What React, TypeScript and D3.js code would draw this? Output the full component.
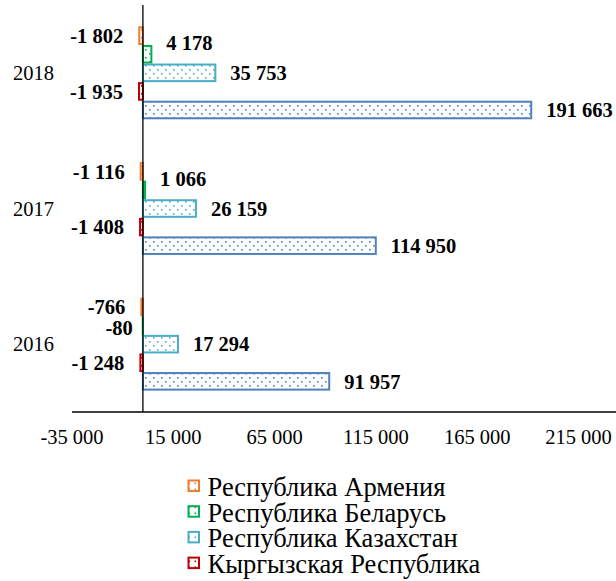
import React from "react";
import * as d3 from "d3";

const years = ["2018", "2017", "2016"];
const seriesNames = [
  "Республика Армения",
  "Республика Беларусь",
  "Республика Казахстан",
  "Кыргызская Республика",
  "Российская Федерация",
];
const seriesColors = ["#ED7D31", "#00B050", "#4BACC6", "#C00000", "#4F81BD"];
const armenia = [-1802, -1116, -766];
const belarus = [4178, 1066, -80];
const kazakhstan = [35753, 26159, 17294];
const kyrgyz = [-1935, -1408, -1248];
const russia = [191663, 114950, 91957];
const seriesValues = [armenia, belarus, kazakhstan, kyrgyz, russia];
const legendCount = 4;
const tickValues = [-35000, 15000, 65000, 115000, 165000, 215000];

const W = 616;
const H = 581;
const FONT = '"Liberation Serif", "Times New Roman", Times, serif';
const fmt = (v: number) => {
  const s = d3.format(",")(Math.abs(v)).replace(/,/g, "\u00a0");
  return (v < 0 ? "-" : "") + s;
};

export default function App() {
  const x = d3.scaleLinear().domain([-35000, 215000]).range([72, 578.5]);
  const y0 = d3.scaleBand<string>().domain(years).range([5, 412]);
  const y1 = d3
    .scaleBand<string>()
    .domain(seriesNames)
    .range([0, y0.bandwidth()])
    .paddingOuter(1.15);
  const step = y1.bandwidth();
  const ts = { fontFamily: FONT } as React.CSSProperties;

  return (
    <svg
      width={W}
      height={H}
      style={{ position: "absolute", left: 0, top: 0, background: "#fff", fontFamily: FONT }}
    >
      <defs>
        {seriesColors.map((c, i) => (
          <pattern
            key={i}
            id={`pat${i}`}
            width={8}
            height={8}
            patternUnits="userSpaceOnUse"
          >
            <rect width={8} height={8} fill="#fff" />
            <rect x={1} y={1} width={1.6} height={1.6} fill={c} />
            <rect x={5} y={5} width={1.6} height={1.6} fill={c} />
          </pattern>
        ))}
        {seriesColors.map((c, i) => (
          <pattern
            key={`m${i}`}
            id={`mpat${i}`}
            width={6}
            height={6}
            x={1}
            y={1}
            patternUnits="userSpaceOnUse"
          >
            <rect width={6} height={6} fill="#fff" />
            <rect x={1.5} y={1.5} width={1.6} height={1.6} fill={c} />
          </pattern>
        ))}
      </defs>

      {/* bars */}
      {years.map((yr, yi) =>
        seriesNames.map((s, si) => {
          const v = seriesValues[si][yi];
          const yy = (y0(yr) as number) + (y1(s) as number);
          const x0 = x(0);
          const xv = x(v);
          return (
            <rect
              key={`${yr}-${s}`}
              x={Math.min(x0, xv)}
              y={yy + 1}
              width={Math.abs(xv - x0)}
              height={step - 2}
              fill={`url(#pat${si})`}
              stroke={seriesColors[si]}
              strokeWidth={2}
            />
          );
        })
      )}

      {/* axes */}
      <line x1={x(0)} x2={x(0)} y1={5} y2={412} stroke="#000" strokeWidth={1.3} />
      <line x1={x(-35000)} x2={W} y1={412} y2={412} stroke="#000" strokeWidth={1.3} />

      {tickValues.map((t) => (
        <text
          key={t}
          x={x(t)}
          y={437}
          dy="0.35em"
          textAnchor="middle"
          fontSize={20.5}
          fill="#000"
          style={ts}
        >
          {fmt(t)}
        </text>
      ))}

      {years.map((yr) => (
        <text
          key={yr}
          x={54}
          y={(y0(yr) as number) + y0.bandwidth() / 2}
          dy="0.35em"
          textAnchor="end"
          fontSize={20.5}
          fill="#000"
          style={ts}
        >
          {yr}
        </text>
      ))}

      {/* value labels */}
      {years.map((yr, yi) =>
        seriesNames.map((s, si) => {
          const v = seriesValues[si][yi];
          const cy = (y0(yr) as number) + (y1(s) as number) + step / 2;
          const shift = si === 1 ? (v > 0 ? -11 : 2) : 0;
          const gap = si === 1 && v < 0 ? 10 : 16;
          return (
            <text
              key={`l-${yr}-${s}`}
              x={v >= 0 ? x(v) + 15 : x(v) - gap}
              y={cy + shift}
              dy="0.35em"
              textAnchor={v >= 0 ? "start" : "end"}
              fontSize={20.5}
              fontWeight="bold"
              fill="#000"
              style={ts}
            >
              {fmt(v)}
            </text>
          );
        })
      )}

      {/* legend */}
      {seriesNames.slice(0, legendCount).map((s, i) => {
        const base = 496 + i * 25.7;
        return (
          <g key={s}>
            <rect
              x={188.5}
              y={base - 15.5}
              width={10.5}
              height={10.5}
              fill={`url(#mpat${i})`}
              stroke={seriesColors[i]}
              strokeWidth={2}
            />
            <text x={207.5} y={base} fontSize={26.5} fill="#000" style={ts}>
              {s}
            </text>
          </g>
        );
      })}
    </svg>
  );
}
